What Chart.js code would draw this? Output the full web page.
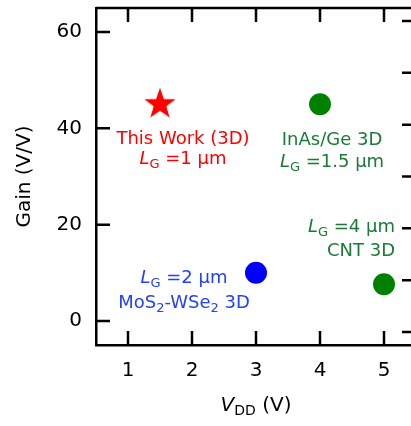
<!DOCTYPE html>
<html>
<head>
<meta charset="utf-8">
<script src="https://cdn.jsdelivr.net/npm/chart.js@4.4.1/dist/chart.umd.min.js"></script>
<style>
html, body { margin: 0; padding: 0; background: #fff; overflow: hidden; }
#wrap { width: 411px; height: 426px; overflow: hidden; }
#gain-chart { display: block; margin-top: -8px; }
</style>
</head>
<body>
<div id="wrap"><canvas id="gain-chart" width="432" height="434"></canvas></div>
<script>
// values
const vdd = [1.5, 4, 3, 5];
const gain = [45, 45, 10, 7.6];
const devices = ['This Work (3D)', 'InAs/Ge 3D', 'MoS2-WSe2 3D', 'CNT 3D'];
const gateLength = ['1', '1.5', '2', '4'];
const xTicks = [1, 2, 3, 4, 5];
const yTicks = [0, 20, 40, 60];
const rightTicks = [0, 1, 2, 3, 4, 5, 6];

const FONT = '"DejaVu Sans"';
const markColors = ['#ff0000', '#008000', '#0000ff', '#008000'];
const textColors = ['#ff0000', '#1a7a36', '#2340ff', '#1a7a36'];

// text runs, one array per line (it = italic, sub = subscript)
function lgLine(len) {
    return [{t: 'L', it: true}, {t: 'G', sub: true}, {t: ' =' + len + ' μm'}];
}
const labelLines = [
    [[{t: devices[0]}], lgLine(gateLength[0])],
    [[{t: devices[1]}], lgLine(gateLength[1])],
    [lgLine(gateLength[2]), [{t: 'MoS'}, {t: '2', sub: true}, {t: '-WSe'}, {t: '2', sub: true}, {t: ' 3D'}]],
    [lgLine(gateLength[3]), [{t: devices[3]}]]
];
// placement of each label relative to its marker (px)
const labelPlace = [
    {dx: 23, dy: [40, 60], align: 'center'},
    {dx: 12, dy: [41, 63], align: 'center'},
    {dx: -72, dy: [10, 35], align: 'center'},
    {dx: 11, dy: [-52, -28], align: 'right'}
];

function starImage(color) {
    const c = document.createElement('canvas');
    c.width = 36; c.height = 36;
    const g = c.getContext('2d');
    const R = 16.5, r = 6.6, cx = 18, cy = 18;
    g.beginPath();
    for (let k = 0; k < 10; k++) {
        const rad = k % 2 === 0 ? R : r;
        const a = -Math.PI / 2 + k * Math.PI / 5;
        const px = cx + rad * Math.cos(a), py = cy + rad * Math.sin(a);
        if (k === 0) g.moveTo(px, py); else g.lineTo(px, py);
    }
    g.closePath();
    g.fillStyle = color;
    g.fill();
    return c;
}

function drawRuns(ctx, runs, x, y, align, size, color) {
    const fontOf = run => {
        const s = run.sub ? Math.round(size * 0.72) : size;
        return (run.it ? 'italic ' : '') + s + 'px ' + FONT;
    };
    let total = 0;
    const widths = runs.map(run => {
        ctx.font = fontOf(run);
        const w = ctx.measureText(run.t).width;
        total += w;
        return w;
    });
    let cx = align === 'center' ? x - total / 2 : align === 'right' ? x - total : x;
    ctx.fillStyle = color;
    ctx.textBaseline = 'alphabetic';
    ctx.textAlign = 'left';
    runs.forEach((run, i) => {
        ctx.font = fontOf(run);
        ctx.fillText(run.t, cx, y + (run.sub ? size * 0.22 : 0));
        cx += widths[i];
    });
}

const framePlugin = {
    id: 'frame',
    afterDraw(chart) {
        const ctx = chart.ctx;
        const area = chart.chartArea;
        const xs = chart.scales.x, ys = chart.scales.y, y2 = chart.scales.y2;
        const tl = 14;
        ctx.save();
        ctx.strokeStyle = '#000';
        ctx.lineWidth = 2.5;
        ctx.beginPath();
        ctx.moveTo(area.left, area.top);
        ctx.lineTo(area.right, area.top);
        ctx.lineTo(area.right, area.bottom);
        ctx.stroke();
        ctx.beginPath();
        xTicks.forEach(v => {
            const px = xs.getPixelForValue(v);
            ctx.moveTo(px, area.bottom); ctx.lineTo(px, area.bottom - tl);
            ctx.moveTo(px, area.top); ctx.lineTo(px, area.top + tl);
        });
        yTicks.forEach(v => {
            const py = ys.getPixelForValue(v);
            ctx.moveTo(area.left, py); ctx.lineTo(area.left + tl, py);
        });
        rightTicks.forEach(v => {
            const py = y2.getPixelForValue(v);
            ctx.moveTo(area.right, py); ctx.lineTo(area.right - tl, py);
        });
        ctx.stroke();

        // point labels
        const meta = chart.getDatasetMeta(0);
        meta.data.forEach((pt, i) => {
            const p = labelPlace[i];
            labelLines[i].forEach((line, j) => {
                drawRuns(ctx, line, pt.x + p.dx, pt.y + p.dy[j], p.align, 18, textColors[i]);
            });
        });

        // axis titles (canvas is shifted up 8px by css)
        const midX = (area.left + area.right) / 2;
        drawRuns(ctx, [{t: 'V', it: true}, {t: 'DD', sub: true}, {t: ' (V)'}], midX, 419, 'center', 20, '#000');
        ctx.translate(30, (area.top + area.bottom) / 2);
        ctx.rotate(-Math.PI / 2);
        drawRuns(ctx, [{t: 'Gain (V/V)'}], 0, 0, 'center', 20, '#000');
        ctx.restore();
    }
};

function noPad(s) {
    s.paddingTop = 0; s.paddingBottom = 0;
    s.paddingLeft = 0; s.paddingRight = 0;
}

const ctx = document.getElementById('gain-chart').getContext('2d');
const tickFont = {family: FONT, size: 20};
const myChart = new Chart(ctx, {
    type: 'scatter',
    data: {
        datasets: [{
            data: vdd.map((v, i) => ({x: v, y: gain[i]})),
            pointStyle: [starImage(markColors[0]), 'circle', 'circle', 'circle'],
            pointRadius: [16, 11, 11, 11],
            backgroundColor: markColors,
            borderColor: markColors,
            borderWidth: 0
        }]
    },
    options: {
        responsive: false,
        animation: false,
        events: [],
        layout: {padding: 0},
        plugins: {legend: {display: false}, tooltip: {enabled: false}},
        scales: {
            x: {
                type: 'linear',
                position: 'bottom',
                min: 0.5,
                max: 5.5,
                afterBuildTicks: s => { s.ticks = xTicks.map(v => ({value: v})); },
                ticks: {font: tickFont, color: '#000', padding: 14, maxRotation: 0},
                grid: {display: false, drawTicks: false},
                border: {display: true, color: '#000', width: 2.5},
                afterFit: s => { s.height = 81; noPad(s); }
            },
            y: {
                type: 'linear',
                position: 'left',
                min: -5,
                max: 65,
                afterBuildTicks: s => { s.ticks = yTicks.map(v => ({value: v})); },
                ticks: {font: tickFont, color: '#000', padding: 14},
                grid: {display: false, drawTicks: false},
                border: {display: true, color: '#000', width: 2.5},
                afterFit: s => { s.width = 96; noPad(s); }
            },
            y2: {
                type: 'linear',
                position: 'right',
                min: -0.25,
                max: 6.25,
                afterBuildTicks: s => { s.ticks = rightTicks.map(v => ({value: v})); },
                ticks: {display: false},
                grid: {display: false, drawTicks: false},
                border: {display: false},
                afterFit: s => { s.width = 13; noPad(s); }
            }
        }
    },
    plugins: [framePlugin]
});
</script>
</body>
</html>
